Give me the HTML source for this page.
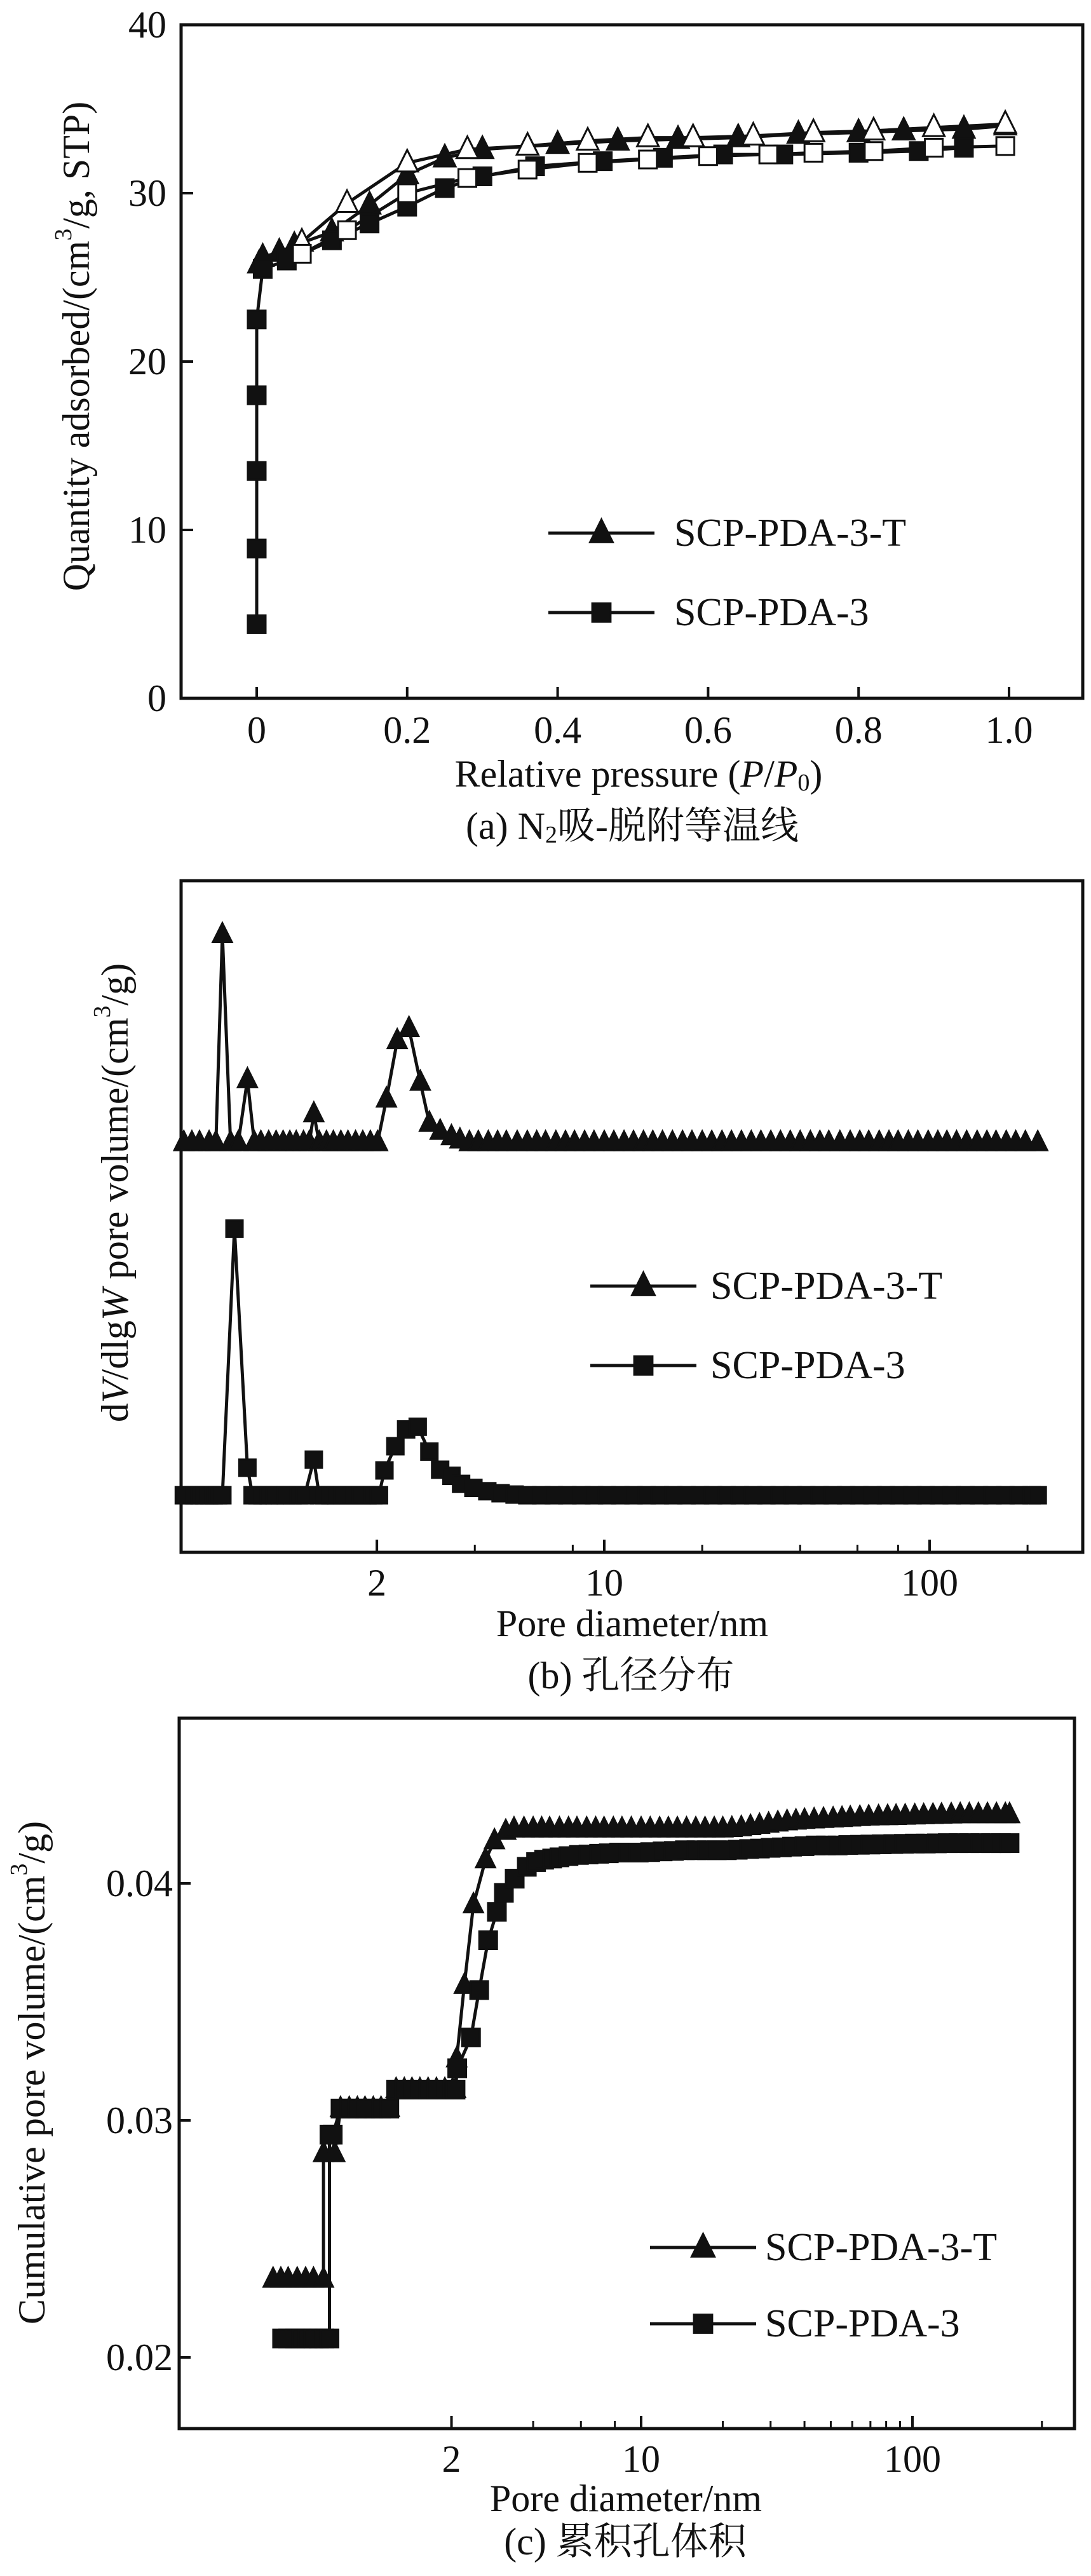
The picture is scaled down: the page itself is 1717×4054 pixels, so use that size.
<!DOCTYPE html>
<html><head><meta charset="utf-8"><style>
html,body{margin:0;padding:0;background:#fff;}
svg{display:block;}
svg text{font-family:"Liberation Serif","Noto Serif CJK SC",serif;fill:#111;}
</style></head><body>
<svg id="fig" width="1717" height="4054" viewBox="0 0 1717 4054" xmlns="http://www.w3.org/2000/svg" font-family="'Liberation Serif','Noto Serif CJK SC',serif">
<g id="pa"></g>
<g id="pb"></g>
<g id="pc"></g>
</svg>
<script>
// ---- Panel (a) data ----
const aTicksX = [0, 0.2, 0.4, 0.6, 0.8, 1.0];
const aTickLabelsX = ["0", "0.2", "0.4", "0.6", "0.8", "1.0"];
const aTicksY = [0, 10, 20, 30, 40];
const triAdsP = [0.003,0.008,0.03,0.05,0.1,0.15,0.2,0.25,0.3,0.4,0.48,0.56,0.64,0.72,0.8,0.86,0.94,0.995];
const triAdsV = [25.8,26.2,26.5,26.9,27.7,29.3,31.1,32.1,32.6,32.9,33.1,33.2,33.3,33.5,33.6,33.7,33.8,34.0];
const triDesP = [0.995,0.9,0.82,0.74,0.66,0.58,0.52,0.44,0.36,0.28,0.2,0.12,0.06];
const triDesV = [34.1,33.9,33.7,33.6,33.4,33.3,33.3,33.1,32.8,32.6,31.8,29.4,27.1];
const sqAdsP = [0,0,0,0,0,0.008,0.04,0.1,0.15,0.2,0.25,0.3,0.37,0.46,0.54,0.62,0.7,0.8,0.88,0.94];
const sqAdsV = [4.4,8.9,13.5,18,22.5,25.5,26.0,27.2,28.2,29.2,30.3,31.0,31.6,31.9,32.1,32.3,32.3,32.4,32.5,32.7];
const sqDesP = [0.995,0.9,0.82,0.74,0.68,0.6,0.52,0.44,0.36,0.28,0.2,0.12,0.06];
const sqDesV = [32.8,32.7,32.5,32.4,32.3,32.2,32.0,31.8,31.4,30.9,30.0,27.8,26.4];

// ---- Panel (b) data ----
const bMajorTicks = [2, 10, 100];
const bMinorTicks = [4, 8, 20, 40, 60, 80, 200];
const bTriD = [0.51,0.54,0.57,0.61,0.64,0.67,0.71,0.75,0.8,0.84,0.88,0.93,0.98,1.03,1.08,1.13,1.19,1.24,1.28,1.33,1.4,1.47,1.55,1.63,1.72,1.81,1.91,2.01,2.14,2.31,2.51,2.72,2.9,3.13,3.39,3.6,3.85,4.1,4.4,4.7,5.0,5.4,5.8,6.2,6.6,7.1,7.6,8.1,8.7,9.3,10,10.7,11.5,12.3,13.2,14.1,15.1,16.2,17.4,18.6,20,21.4,23,24.6,26.4,28.3,30.3,32.5,34.8,37.3,40,43,46,49,53,57,61,65,70,75,80,86,92,99,106,113,121,130,140,150,160,172,184,197,215];
const bTriV = [0.61,0.61,0.61,0.61,0.61,0.92,0.61,0.61,0.704,0.61,0.61,0.61,0.61,0.61,0.61,0.61,0.61,0.61,0.653,0.61,0.61,0.61,0.61,0.61,0.61,0.61,0.61,0.61,0.675,0.762,0.78,0.70,0.639,0.627,0.619,0.614,0.61,0.61,0.61,0.61,0.61,0.61,0.61,0.61,0.61,0.61,0.61,0.61,0.61,0.61,0.61,0.61,0.61,0.61,0.61,0.61,0.61,0.61,0.61,0.61,0.61,0.61,0.61,0.61,0.61,0.61,0.61,0.61,0.61,0.61,0.61,0.61,0.61,0.61,0.61,0.61,0.61,0.61,0.61,0.61,0.61,0.61,0.61,0.61,0.61,0.61,0.61,0.61,0.61,0.61,0.61,0.61,0.61,0.61,0.61];
const bSqD = [0.51,0.53,0.55,0.57,0.59,0.61,0.63,0.65,0.67,0.73,0.8,0.83,0.86,0.89,0.93,0.97,1.01,1.05,1.1,1.15,1.2,1.28,1.33,1.38,1.44,1.5,1.57,1.64,1.71,1.79,1.87,1.95,2.03,2.11,2.28,2.46,2.67,2.9,3.13,3.39,3.63,3.96,4.37,4.8,5.3,5.8,6.4,7,7.7,8.5,9.3,10.2,11.2,12.3,13.5,14.8,16.3,17.9,19.7,21.6,23.8,26.1,28.7,31.5,34.6,38,41.8,45.9,50.4,55.4,60.8,66.8,73.4,80.6,88.6,97.3,107,117,129,142,156,171,188,206,215];
const bSqV = [0.085,0.085,0.085,0.085,0.085,0.085,0.085,0.085,0.085,0.482,0.126,0.085,0.085,0.085,0.085,0.085,0.085,0.085,0.085,0.085,0.085,0.138,0.085,0.085,0.085,0.085,0.085,0.085,0.085,0.085,0.085,0.085,0.085,0.122,0.158,0.183,0.187,0.150,0.123,0.114,0.102,0.096,0.091,0.088,0.086,0.085,0.085,0.085,0.085,0.085,0.085,0.085,0.085,0.085,0.085,0.085,0.085,0.085,0.085,0.085,0.085,0.085,0.085,0.085,0.085,0.085,0.085,0.085,0.085,0.085,0.085,0.085,0.085,0.085,0.085,0.085,0.085,0.085,0.085,0.085,0.085,0.085,0.085,0.085,0.085];

// ---- Panel (c) data ----
const cMajorTicks = [2, 10, 100];
const cMinorTicks = [4, 6, 8, 20, 30, 40, 50, 60, 70, 80, 90, 300];
const cTicksY = [0.02, 0.03, 0.04];
const cTickLabelsY = ["0.02", "0.03", "0.04"];
const cTriD = [0.44,0.47,0.5,0.54,0.58,0.62,0.675,0.675,0.743,0.78,0.84,0.9,0.96,1.03,1.1,1.18,1.25,1.34,1.43,1.53,1.64,1.76,1.89,2.02,2.07,2.09,2.23,2.41,2.67,2.88,3.17,3.4,3.7,4.0,4.3,4.6,5.0,5.4,5.8,6.3,6.8,7.3,7.9,8.5,9.2,10,10.8,11.7,12.6,13.6,14.7,15.9,17.2,18.6,20,21.6,23.4,25.3,27.3,29.5,31.9,34.5,37.2,40,43.4,47,51,55,59,64,69,75,81,87,94,102,110,119,128,139,150,162,175,189,204,220,228];
const cTriV = [0.0233,0.0233,0.0233,0.0233,0.0233,0.0233,0.0233,0.0286,0.0286,0.0305,0.0305,0.0305,0.0305,0.0305,0.0305,0.0305,0.0313,0.0313,0.0313,0.0313,0.0313,0.0313,0.0313,0.0313,0.0313,0.0326,0.0357,0.0391,0.0410,0.0418,0.0422,0.0423,0.0423,0.0423,0.0423,0.0423,0.0423,0.0423,0.0423,0.0423,0.0423,0.0423,0.0423,0.0423,0.0423,0.0423,0.0423,0.0423,0.0423,0.0423,0.0423,0.0423,0.0423,0.0423,0.0423,0.04232,0.04235,0.0424,0.04245,0.0425,0.04255,0.0426,0.04263,0.04266,0.04268,0.0427,0.04272,0.04274,0.04276,0.04278,0.0428,0.04281,0.04282,0.04283,0.04284,0.04285,0.04286,0.04287,0.04288,0.04289,0.0429,0.0429,0.0429,0.0429,0.0429,0.0429,0.0429];
const cSqD = [0.475,0.5,0.53,0.56,0.59,0.62,0.65,0.68,0.71,0.71,0.73,0.78,0.84,0.9,0.96,1.03,1.1,1.18,1.25,1.34,1.43,1.53,1.64,1.76,1.89,2.02,2.07,2.1,2.36,2.53,2.73,2.94,3.12,3.42,3.79,4.1,4.39,4.7,5.0,5.4,5.9,6.4,7,7.6,8.3,9,9.8,10.8,12,13.2,14.5,16,17.5,19,20.7,22.7,25,27.4,30,33,36,40,44,48,53,58,64,70,77,85,93,102,112,123,135,148,162,178,195,212,228];
const cSqV = [0.0208,0.0208,0.0208,0.0208,0.0208,0.0208,0.0208,0.0208,0.0208,0.0294,0.0294,0.0305,0.0305,0.0305,0.0305,0.0305,0.0305,0.0305,0.0313,0.0313,0.0313,0.0313,0.0313,0.0313,0.0313,0.0313,0.0313,0.0322,0.0335,0.0355,0.0376,0.0388,0.0396,0.0402,0.0407,0.0409,0.0410,0.04105,0.0411,0.04115,0.0412,0.04122,0.04125,0.04127,0.0413,0.0413,0.0413,0.04132,0.04135,0.04137,0.0414,0.0414,0.0414,0.0414,0.0414,0.04142,0.04145,0.04147,0.0415,0.04152,0.04155,0.04157,0.0416,0.0416,0.0416,0.04162,0.04163,0.04164,0.04165,0.04166,0.04167,0.04168,0.04168,0.04169,0.0417,0.0417,0.0417,0.0417,0.0417,0.0417,0.0417];

const NS = "http://www.w3.org/2000/svg";
const FONT = "'Liberation Serif','Noto Serif CJK SC',serif";
function mk(parent, tag, attrs, txt) {
  const e = document.createElementNS(NS, tag);
  for (const k in attrs) e.setAttribute(k, attrs[k]);
  if (tag === "text") e.setAttribute("font-family", FONT);
  if (txt !== undefined) e.textContent = txt;
  parent.appendChild(e);
  return e;
}
function polyline(g, xs, ys, fx, fy) {
  const pts = xs.map((x, i) => fx(x).toFixed(1) + "," + fy(ys[i]).toFixed(1)).join(" ");
  return mk(g, "polyline", {points: pts, fill: "none", stroke: "#111", "stroke-width": 5, "stroke-linejoin": "round"});
}
function triangle(g, cx, cy, s, fill) {
  return mk(g, "polygon", {points: `${cx},${cy - s * 0.6} ${cx - s / 2},${cy + s * 0.4} ${cx + s / 2},${cy + s * 0.4}`, fill: fill, stroke: "#111", "stroke-width": 3});
}
function square(g, cx, cy, s, fill) {
  return mk(g, "rect", {x: cx - s / 2, y: cy - s / 2, width: s, height: s, fill: fill, stroke: "#111", "stroke-width": 3});
}
function frame(g, x0, y0, x1, y1) {
  return mk(g, "rect", {x: x0, y: y0, width: x1 - x0, height: y1 - y0, fill: "none", stroke: "#111", "stroke-width": 5});
}
function legend(g, x0, x1, tx, y1, y2, ms, fs) {
  const l1 = mk(g, "g", {});
  
  
  mk(l1, "line", {x1: x0, y1: y1, x2: x1, y2: y1, stroke: "#111", "stroke-width": 5});
  triangle(l1, (x0 + x1) / 2, y1, ms, "#111");
  mk(l1, "text", {x: tx, y: y1, "font-size": fs, "dominant-baseline": "central"}, "SCP-PDA-3-T");
  const l2 = mk(g, "g", {});
  
  
  mk(l2, "line", {x1: x0, y1: y2, x2: x1, y2: y2, stroke: "#111", "stroke-width": 5});
  square(l2, (x0 + x1) / 2, y2, ms * 0.8, "#111");
  mk(l2, "text", {x: tx, y: y2, "font-size": fs, "dominant-baseline": "central"}, "SCP-PDA-3");
}

// ================= Panel A =================
(function () {
  const g = document.getElementById("pa");
  const X0 = 285, X1 = 1704, Y0 = 39, Y1 = 1099;
  const fx = p => 404 + 1184 * p;
  const fy = v => Y1 - 26.5 * v;
  const ax = mk(g, "g", {});
  
  
  frame(ax, X0, Y0, X1, Y1);
  aTicksX.forEach((t, i) => {
    mk(ax, "line", {x1: fx(t), y1: Y1, x2: fx(t), y2: Y1 - 18, stroke: "#111", "stroke-width": 4});
    const tl = mk(ax, "text", {x: fx(t), y: 1149, "font-size": 60, "text-anchor": "middle", "dominant-baseline": "central"}, aTickLabelsX[i]);
    
    
  });
  aTicksY.forEach(t => {
    if (t > 0 && t < 40) mk(ax, "line", {x1: X0, y1: fy(t), x2: X0 + 19, y2: fy(t), stroke: "#111", "stroke-width": 4});
    const tl = mk(ax, "text", {x: 262, y: fy(t), "font-size": 60, "text-anchor": "end", "dominant-baseline": "central"}, String(t));
    
    
  });
  const yl = mk(ax, "text", {x: 0, y: 0, "font-size": 60, "text-anchor": "middle", "dominant-baseline": "central", transform: "translate(120,545) rotate(-90)"});
  
  
  yl.innerHTML = 'Quantity adsorbed/(cm<tspan font-size="38" dy="-20">3</tspan><tspan dy="20">/g, STP)</tspan>';
  const xl = mk(ax, "text", {x: 1005, y: 1218, "font-size": 60, "text-anchor": "middle", "dominant-baseline": "central"});
  
  
  xl.innerHTML = 'Relative pressure (<tspan font-style="italic">P</tspan>/<tspan font-style="italic">P</tspan><tspan font-size="38" dy="14">0</tspan><tspan dy="-14">)</tspan>';
  const cap = mk(g, "text", {x: 995, y: 1300, "font-size": 60, "text-anchor": "middle", "dominant-baseline": "central"});
  
  
  cap.innerHTML = '(a) N<tspan font-size="38" dy="14">2</tspan><tspan dy="-14">吸-脱附等温线</tspan>';

  const s1 = mk(g, "g", {});
  
  
  const s2 = mk(g, "g", {});
  
  
  polyline(s2, sqAdsP, sqAdsV, fx, fy);
  polyline(s2, sqDesP, sqDesV, fx, fy);
  polyline(s1, triAdsP, triAdsV, fx, fy);
  polyline(s1, triDesP, triDesV, fx, fy);
  sqAdsP.forEach((p, i) => square(s2, fx(p), fy(sqAdsV[i]), 28, "#111"));
  sqDesP.forEach((p, i) => square(s2, fx(p), fy(sqDesV[i]), 28, "#fff"));
  triAdsP.forEach((p, i) => triangle(s1, fx(p), fy(triAdsV[i]), 34, "#111"));
  triDesP.forEach((p, i) => triangle(s1, fx(p), fy(triDesV[i]), 34, "#fff"));
  legend(g, 863, 1030, 1061, 839, 964, 36, 62);
})();

// ================= Panel B =================
(function () {
  const g = document.getElementById("pb");
  const X0 = 285, X1 = 1704, Y0 = 1386, Y1 = 2443;
  const fx = d => 439 + 512 * Math.log10(d);
  const fy = v => Y1 - (Y1 - Y0) * v;
  const ax = mk(g, "g", {});
  
  
  frame(ax, X0, Y0, X1, Y1);
  bMajorTicks.forEach(t => {
    mk(ax, "line", {x1: fx(t), y1: Y1, x2: fx(t), y2: Y1 - 20, stroke: "#111", "stroke-width": 4});
    const tl = mk(ax, "text", {x: fx(t), y: 2491, "font-size": 60, "text-anchor": "middle", "dominant-baseline": "central"}, String(t));
    
    
  });
  bMinorTicks.forEach(t => mk(ax, "line", {x1: fx(t), y1: Y1, x2: fx(t), y2: Y1 - 12, stroke: "#111", "stroke-width": 3}));
  const yl = mk(ax, "text", {x: 0, y: 0, "font-size": 60, "text-anchor": "middle", "dominant-baseline": "central", transform: "translate(181,1877) rotate(-90)"});
  
  
  yl.innerHTML = 'd<tspan font-style="italic">V</tspan>/dlg<tspan font-style="italic">W</tspan> pore volume/(cm<tspan font-size="38" dy="-20">3</tspan><tspan dy="20">/g)</tspan>';
  const xl = mk(ax, "text", {x: 995, y: 2555, "font-size": 60, "text-anchor": "middle", "dominant-baseline": "central"}, "Pore diameter/nm");
  
  
  const cap = mk(g, "text", {x: 993, y: 2637, "font-size": 60, "text-anchor": "middle", "dominant-baseline": "central"}, "(b) 孔径分布");
  
  

  const s1 = mk(g, "g", {});
  
  
  const s2 = mk(g, "g", {});
  
  
  polyline(s1, bTriD, bTriV, fx, fy);
  bTriD.forEach((d, i) => triangle(s1, fx(d), fy(bTriV[i]), 30, "#111"));
  polyline(s2, bSqD, bSqV, fx, fy);
  bSqD.forEach((d, i) => square(s2, fx(d), fy(bSqV[i]), 26, "#111"));
  legend(g, 929, 1096, 1118, 2024, 2149, 36, 62);
})();

// ================= Panel C =================
(function () {
  const g = document.getElementById("pc");
  const X0 = 282, X1 = 1691, Y0 = 2704, Y1 = 3822;
  const fx = d => 582 + 427 * Math.log10(d);
  const fy = v => 3710 - (v - 0.02) * 37300;
  const ax = mk(g, "g", {});
  
  
  frame(ax, X0, Y0, X1, Y1);
  cMajorTicks.forEach(t => {
    mk(ax, "line", {x1: fx(t), y1: Y1, x2: fx(t), y2: Y1 - 20, stroke: "#111", "stroke-width": 4});
    const tl = mk(ax, "text", {x: fx(t), y: 3870, "font-size": 60, "text-anchor": "middle", "dominant-baseline": "central"}, String(t));
    
    
  });
  cMinorTicks.forEach(t => mk(ax, "line", {x1: fx(t), y1: Y1, x2: fx(t), y2: Y1 - 12, stroke: "#111", "stroke-width": 3}));
  cTicksY.forEach((t, i) => {
    mk(ax, "line", {x1: X0, y1: fy(t), x2: X0 + 18, y2: fy(t), stroke: "#111", "stroke-width": 4});
    const tl = mk(ax, "text", {x: 272, y: fy(t), "font-size": 60, "text-anchor": "end", "dominant-baseline": "central"}, cTickLabelsY[i]);
    
    
  });
  const yl = mk(ax, "text", {x: 0, y: 0, "font-size": 60, "text-anchor": "middle", "dominant-baseline": "central", transform: "translate(50,3262) rotate(-90)"});
  
  
  yl.innerHTML = 'Cumulative pore volume/(cm<tspan font-size="38" dy="-20">3</tspan><tspan dy="20">/g)</tspan>';
  const xl = mk(ax, "text", {x: 985, y: 3932, "font-size": 60, "text-anchor": "middle", "dominant-baseline": "central"}, "Pore diameter/nm");
  
  
  const cap = mk(g, "text", {x: 984, y: 4000, "font-size": 60, "text-anchor": "middle", "dominant-baseline": "central"}, "(c) 累积孔体积");
  
  

  const s1 = mk(g, "g", {});
  
  
  const s2 = mk(g, "g", {});
  
  
  polyline(s2, cSqD, cSqV, fx, fy);
  cSqD.forEach((d, i) => square(s2, fx(d), fy(cSqV[i]), 28, "#111"));
  polyline(s1, cTriD, cTriV, fx, fy);
  cTriD.forEach((d, i) => triangle(s1, fx(d), fy(cTriV[i]), 30, "#111"));
  legend(g, 1023, 1190, 1204, 3537, 3657, 36, 62);
})();
</script>
</body></html>
